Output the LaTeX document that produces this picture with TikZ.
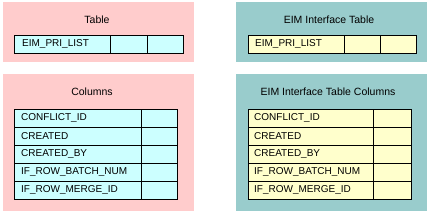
\documentclass[tikz,border=0pt]{standalone}
\usepackage{fontspec}
\setmainfont{Liberation Sans}
\definecolor{pinkbg}{HTML}{FFCCCC}
\definecolor{tealbg}{HTML}{99CCCC}
\definecolor{cyancell}{HTML}{CCFFFF}
\definecolor{yellowcell}{HTML}{FFFFCC}
\begin{document}
\begin{tikzpicture}[x=1pt,y=-1pt,
  panel/.style={draw=none, inner sep=0pt, outer sep=0pt, anchor=north west, minimum width=191pt},
  cell/.style={draw=black, line width=0.9pt, inner sep=0pt, outer sep=0pt, anchor=north west, minimum height=18pt},
  lbl/.style={font=\fontsize{10}{12}\selectfont, anchor=west, inner sep=0pt},
  ttl/.style={font=\fontsize{10.5}{12}\selectfont, inner sep=0pt}]
\useasboundingbox[fill=white] (0,0) rectangle (430,214);
% panels
\node[panel, fill=pinkbg, minimum height=60pt] (p1) at (3,2) {};
\node[panel, fill=tealbg, minimum height=60pt] (p2) at (236,2) {};
\node[panel, fill=pinkbg, minimum height=137pt] (p3) at (3,74) {};
\node[panel, fill=tealbg, minimum height=137pt] (p4) at (236,74) {};
% titles
\node[ttl] (t1) at (97,20) {Table};
\node[ttl] (t2) at (329,20) {EIM Interface Table};
\node[ttl] (t3) at (92,92) {Columns};
\node[ttl] (t4) at (328,92) {EIM Interface Table Columns};
% top tables
\node[cell, fill=cyancell, minimum width=96pt] (a1) at (14,35) {};
\node[cell, fill=cyancell, minimum width=37pt] (a2) at (110,35) {};
\node[cell, fill=cyancell, minimum width=36pt] (a3) at (147,35) {};
\node[lbl] (al) at (22,44) {EIM\_PRI\_LIST};
\node[cell, fill=yellowcell, minimum width=96pt] (b1) at (248,35) {};
\node[cell, fill=yellowcell, minimum width=36pt] (b2) at (344,35) {};
\node[cell, fill=yellowcell, minimum width=36pt] (b3) at (380,35) {};
\node[lbl] (bl) at (255,44) {EIM\_PRI\_LIST};
% column tables
\foreach \t [count=\i from 0] in {CONFLICT\_ID, CREATED, CREATED\_BY, IF\_ROW\_BATCH\_NUM, IF\_ROW\_MERGE\_ID}{
  \pgfmathsetmacro{\yy}{109+18*\i}
  \node[cell, fill=cyancell, minimum width=127pt] (c\i) at (14,\yy) {};
  \node[cell, fill=cyancell, minimum width=36pt] (d\i) at (141,\yy) {};
  \node[lbl] (cl\i) at (21,\yy+9) {\t};
  \node[cell, fill=yellowcell, minimum width=125pt] (e\i) at (248,\yy) {};
  \node[cell, fill=yellowcell, minimum width=38pt] (f\i) at (373,\yy) {};
  \node[lbl] (el\i) at (254,\yy+9) {\t};
}
\end{tikzpicture}
\end{document}
